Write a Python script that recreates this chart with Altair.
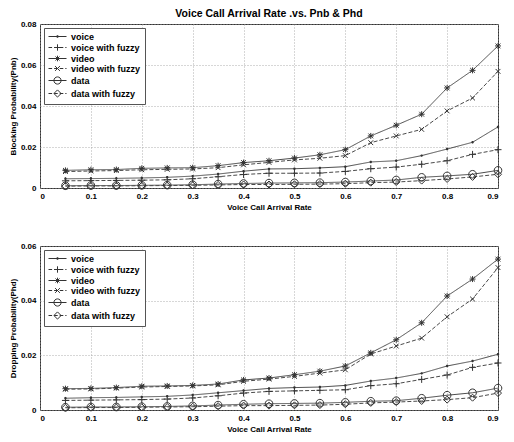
import altair as alt
import pandas as pd

x_vals = [0.05, 0.1, 0.15, 0.2, 0.25, 0.3, 0.35, 0.4, 0.45, 0.5,
          0.55, 0.6, 0.65, 0.7, 0.75, 0.8, 0.85, 0.9]
series_names = ["voice", "voice with fuzzy", "video", "video with fuzzy", "data", "data with fuzzy"]

# Top panel: Blocking Probability (Pnb)
pnb_voice = [0.0045, 0.0046, 0.0047, 0.0049, 0.0052, 0.0058, 0.0068, 0.0082, 0.0093, 0.0094,
             0.0098, 0.0104, 0.0127, 0.0133, 0.0158, 0.0190, 0.0223, 0.0298]
pnb_voice_fuzzy = [0.0035, 0.0036, 0.0037, 0.0038, 0.0040, 0.0045, 0.0055, 0.0066, 0.0072, 0.0072,
                   0.0073, 0.0081, 0.0094, 0.0102, 0.0116, 0.0133, 0.0164, 0.0187]
pnb_video = [0.0086, 0.0089, 0.0090, 0.0096, 0.0098, 0.0099, 0.0109, 0.0124, 0.0133, 0.0146,
             0.0162, 0.0187, 0.0254, 0.0306, 0.0360, 0.0488, 0.0574, 0.0693]
pnb_video_fuzzy = [0.0080, 0.0083, 0.0085, 0.0089, 0.0091, 0.0093, 0.0099, 0.0113, 0.0125, 0.0137,
                   0.0145, 0.0158, 0.0221, 0.0254, 0.0286, 0.0376, 0.0439, 0.0569]
pnb_data = [0.0011, 0.0012, 0.0012, 0.0013, 0.0014, 0.0016, 0.0019, 0.0022, 0.0024, 0.0025,
            0.0026, 0.0029, 0.0034, 0.0039, 0.0052, 0.0059, 0.0067, 0.0086]
pnb_data_fuzzy = [0.0009, 0.0010, 0.0010, 0.0011, 0.0012, 0.0013, 0.0015, 0.0017, 0.0017, 0.0018,
                  0.0019, 0.0021, 0.0026, 0.0029, 0.0036, 0.0044, 0.0054, 0.0067]

# Bottom panel: Dropping Probability (Phd)
phd_voice = [0.0043, 0.0045, 0.0046, 0.0048, 0.0050, 0.0055, 0.0063, 0.0071, 0.0079, 0.0082,
             0.0084, 0.0090, 0.0106, 0.0117, 0.0134, 0.0161, 0.0179, 0.0204]
phd_voice_fuzzy = [0.0035, 0.0036, 0.0037, 0.0038, 0.0040, 0.0044, 0.0052, 0.0062, 0.0068, 0.0070,
                   0.0072, 0.0074, 0.0089, 0.0096, 0.0112, 0.0128, 0.0156, 0.0172]
phd_video = [0.0078, 0.0079, 0.0082, 0.0087, 0.0088, 0.0090, 0.0095, 0.0110, 0.0117, 0.0129,
             0.0142, 0.0161, 0.0209, 0.0257, 0.0319, 0.0417, 0.0479, 0.0552]
phd_video_fuzzy = [0.0076, 0.0077, 0.0080, 0.0084, 0.0086, 0.0088, 0.0092, 0.0105, 0.0113, 0.0123,
                   0.0135, 0.0147, 0.0205, 0.0234, 0.0263, 0.0341, 0.0406, 0.0521]
phd_data = [0.0010, 0.0011, 0.0011, 0.0012, 0.0013, 0.0015, 0.0018, 0.0021, 0.0023, 0.0024,
            0.0025, 0.0028, 0.0032, 0.0034, 0.0043, 0.0054, 0.0063, 0.0080]
phd_data_fuzzy = [0.0008, 0.0009, 0.0009, 0.0010, 0.0011, 0.0012, 0.0014, 0.0016, 0.0016, 0.0017,
                  0.0018, 0.0021, 0.0026, 0.0029, 0.0033, 0.0038, 0.0045, 0.0062]

x_ticks = [0, 0.1, 0.2, 0.3, 0.4, 0.5, 0.6, 0.7, 0.8, 0.9]
pnb_ticks = [0, 0.02, 0.04, 0.06, 0.08]
phd_ticks = [0, 0.02, 0.04, 0.06]

FONT = "Liberation Sans"
LINE_COLOR = "#4a4a4a"
MARK_COLOR = "#333333"


def make_df(series_lists):
    rows = []
    for name, vals in zip(series_names, series_lists):
        for x, v in zip(x_vals, vals):
            rows.append({"x": x, "series": name, "value": v})
    return pd.DataFrame(rows)


df_top = make_df([pnb_voice, pnb_voice_fuzzy, pnb_video, pnb_video_fuzzy, pnb_data, pnb_data_fuzzy])
df_bot = make_df([phd_voice, phd_voice_fuzzy, phd_video, phd_video_fuzzy, phd_data, phd_data_fuzzy])

# marker paths (unit radius, centred on 0)
circ = "M1,0A1,1,0,1,1,-1,0A1,1,0,1,1,1,0Z"
plus = "M-1,0L1,0M0,-1L0,1"
cross = "M-0.8,-0.8L0.8,0.8M-0.8,0.8L0.8,-0.8"
aster = plus + cross
diamond = "M0,-1L1,0L0,1L-1,0Z"
# (marker path, size, filled, line dash)
series_styles = [
    (circ, 6, True, [1, 0]),        # voice: dot, solid
    (plus, 49, False, [4, 2]),      # voice with fuzzy: +, dashed
    (aster, 36, False, [1, 0]),     # video: *, solid
    (cross, 36, False, [4, 2]),     # video with fuzzy: x, dashed
    (circ, 58, False, [1, 0]),      # data: o, solid
    (diamond, 49, False, [4, 2]),   # data with fuzzy: diamond, dashed
]

# legend symbols: line sample + marker; legend symbolSize 64 -> 4px per unit.
# line from -1 to 3.5 (18px), marker centred at x = 1.25
MC = 1.25


def seg_line(dashed):
    if not dashed:
        return "M-1,0L3.5,0"
    out, x = [], -1.0
    while x < 3.5:
        x2 = min(x + 0.9, 3.5)
        out.append(f"M{x:.2f},0L{x2:.2f},0")
        x = x2 + 0.5
    return "".join(out)


def circle_path(r):
    return f"M{MC + r:.2f},0A{r},{r},0,1,1,{MC - r:.2f},0A{r},{r},0,1,1,{MC + r:.2f},0"


leg_markers = [
    circle_path(0.25),
    f"M{MC - 0.8:.2f},0L{MC + 0.8:.2f},0M{MC},-0.8L{MC},0.8",
    f"M{MC - 0.7:.2f},0L{MC + 0.7:.2f},0M{MC},-0.7L{MC},0.7"
    f"M{MC - 0.5:.2f},-0.5L{MC + 0.5:.2f},0.5M{MC - 0.5:.2f},0.5L{MC + 0.5:.2f},-0.5",
    f"M{MC - 0.6:.2f},-0.6L{MC + 0.6:.2f},0.6M{MC - 0.6:.2f},0.6L{MC + 0.6:.2f},-0.6",
    circle_path(0.9),
    f"M{MC},-0.9L{MC + 0.9:.2f},0L{MC},0.9L{MC - 0.9:.2f},0Z",
]
leg_paths = [seg_line(i % 2 == 1) + m for i, m in enumerate(leg_markers)]


def panel(df, ytitle, ymax, yticks, title=None):
    base = alt.Chart(df)
    xenc = alt.X("x:Q", scale=alt.Scale(domain=[0, 0.9], nice=False, zero=False),
                 axis=alt.Axis(values=x_ticks, title="Voice Call Arrival Rate",
                               labelExpr="datum.value == 0 ? '0' : format(datum.value, '.1f')"))
    yenc = alt.Y("value:Q", scale=alt.Scale(domain=[0, ymax], nice=False),
                 axis=alt.Axis(values=yticks, title=ytitle,
                               labelExpr="datum.value == 0 ? '0' : format(datum.value, '.2f')"))
    layers = []
    for s, (shape, size, filled, dash) in zip(series_names, series_styles):
        sub = base.transform_filter(alt.datum.series == s)
        layers.append(sub.mark_line(color=LINE_COLOR, strokeWidth=1, strokeDash=dash).encode(x=xenc, y=yenc))
    for s, (shape, size, filled, dash) in zip(series_names, series_styles):
        sub = base.transform_filter(alt.datum.series == s)
        layers.append(sub.mark_point(shape=shape, size=size, filled=filled, color=MARK_COLOR,
                                     strokeWidth=1, opacity=1).encode(x=xenc, y=yenc))
    # legend-only layer: no rows pass the filter; the explicit domain keeps every entry
    leg = base.transform_filter("false").mark_point(filled=False, color=MARK_COLOR, strokeWidth=1).encode(
        x=xenc, y=yenc,
        shape=alt.Shape("series:N", scale=alt.Scale(domain=series_names, range=leg_paths),
                        legend=alt.Legend(title=None, orient="top-left", offset=4, padding=4,
                                          strokeColor="#555555", fillColor="white",
                                          symbolSize=64, symbolStrokeWidth=1, symbolOpacity=1,
                                          symbolStrokeColor=MARK_COLOR,
                                          labelOffset=14, rowPadding=0, labelFontSize=9,
                                          labelFontWeight="bold", labelFont=FONT, labelColor="black")))
    layers.append(leg)
    props = dict(width=458, height=164)
    if title:
        props["title"] = alt.Title(title, fontSize=10.5, font=FONT, fontWeight="bold", offset=1)
    return alt.layer(*layers).properties(**props)


top = panel(df_top, "Blocking Probability(Pnb)", 0.08, pnb_ticks,
            title="Voice Call Arrival Rate .vs. Pnb & Phd")
bot = panel(df_bot, "Dropping Probability(Phd)", 0.06, phd_ticks)

chart = alt.vconcat(top, bot, spacing=29).resolve_scale(
    shape="independent"
).resolve_legend(shape="independent").properties(
    padding={"left": 0, "top": 0, "right": 0, "bottom": 0}
).configure_view(stroke="#333333", strokeWidth=1).configure_axis(
    labelFont=FONT, labelFontWeight="bold", labelFontSize=8, labelColor="black",
    titleFont=FONT, titleFontWeight="bold", titleFontSize=8, titleColor="black",
    grid=True, gridColor="#999999", gridDash=[1, 2], gridWidth=0.8,
    ticks=False, domain=False, labelPadding=4, titlePadding=3
)

chart.save("out.html", embed_options={"renderer": "svg", "actions": False})
